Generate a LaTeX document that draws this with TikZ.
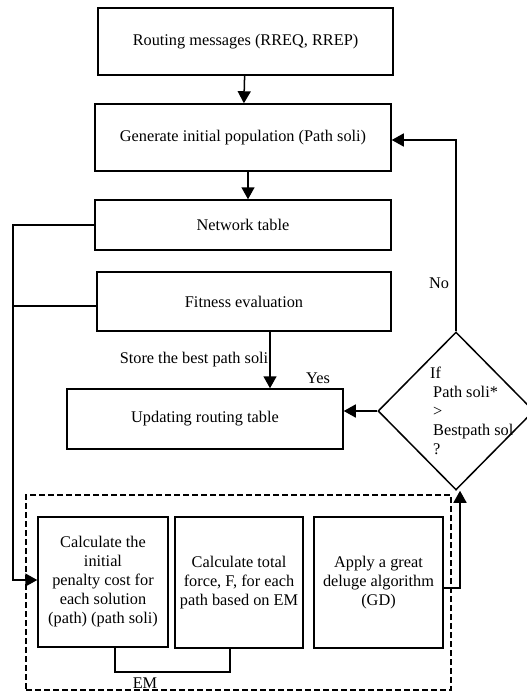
\documentclass[tikz,border=0pt]{standalone}
\usepackage{fontspec}
\setmainfont{Liberation Serif}
\usetikzlibrary{positioning,arrows.meta,shapes.geometric}

\begin{document}
\begin{tikzpicture}[
  x=1pt, y=-1pt,
  % Node Styles
  procbox/.style={rectangle, draw, line width=1.5pt, fill=white, text=black, align=center, inner sep=2pt},
  decbox/.style={diamond, draw, line width=1.5pt, minimum width=156pt, minimum height=158pt, inner sep=0pt},
  groupbox/.style={rectangle, draw, line width=1.5pt, dash pattern=on 6pt off 3pt},
  lbl/.style={inner sep=0pt, align=left},
  % Arrow Styles
  flowarrow/.style={-{Triangle[length=12pt,width=13pt]}, line width=1.5pt},
  plainline/.style={line width=1.5pt},
]
\tikzset{font=\fontsize{16.3pt}{19pt}\selectfont}
\useasboundingbox (0,0) rectangle (527,696);

% Routing flow chart

\node[groupbox, minimum width=425pt, minimum height=195pt] (emgroup) at (238.5,592.5) {};

\node[procbox, minimum width=295pt, minimum height=67pt] (routemsg) at (245.5,41.5) {Routing messages (RREQ, RREP)};
\node[procbox, minimum width=296pt, minimum height=67pt] (initpop) at (243,137.5) {Generate initial population (Path soli)};
\node[procbox, minimum width=296pt, minimum height=50pt] (nettable) at (243,225) {Network table};
\node[procbox, minimum width=294pt, minimum height=59pt] (fitness) at (244,301.5) {Fitness evaluation};
\node[procbox, minimum width=276pt, minimum height=60pt] (update) at (205,419) {Updating routing table};
\node[decbox] (cond) at (456,411) {};
\node[lbl, anchor=west] (condtext) at (430,411) {If\\\hspace{3pt}Path soli*\\\hspace{3pt}>\\\hspace{3pt}Bestpath sol\\\hspace{3pt}?};

\node[procbox, minimum width=130pt, minimum height=130pt] (penalty) at (103,582) {Calculate the\\initial\\penalty cost for\\each solution\\(path) (path soli)};
\node[procbox, minimum width=128pt, minimum height=131pt] (force) at (239,582.5) {Calculate total\\force, F, for each\\path based on EM};
\node[procbox, minimum width=129pt, minimum height=131pt] (deluge) at (378.5,582.5) {Apply a great\\deluge algorithm\\(GD)};

\draw[flowarrow] (routemsg) -- (initpop);
\draw[flowarrow] ([xshift=5pt]initpop.south) -- ([xshift=5pt]nettable.north);
\draw[flowarrow] (nettable.west) -| (13,580) -- (penalty.west |- 0,580);
\draw[plainline] ([yshift=-4.5pt]fitness.west) -- ++(-84,0);
\draw[flowarrow] ([xshift=26pt]fitness.south) -- node[lbl, anchor=east, xshift=-1pt] (storelbl) {Store the best path soli} ([xshift=26pt]fitness.south |- update.north);
\draw[flowarrow] (cond.west) -- (cond.west -| update.east);
\node[lbl] (yeslbl) at (318,378) {Yes};
\draw[flowarrow] (cond.north) |- ([yshift=-2.5pt]initpop.east);
\node[lbl] (nolbl) at (439,283) {No};
\draw[flowarrow] ([yshift=-5.5pt]deluge.east) -| ([xshift=4pt]cond.south);
\draw[plainline] ([xshift=12pt]penalty.south) -- ++(0,24) -| ([xshift=-9pt]force.south);
\node[lbl] (emlbl) at (145,683) {EM};

\end{tikzpicture}
\end{document}
